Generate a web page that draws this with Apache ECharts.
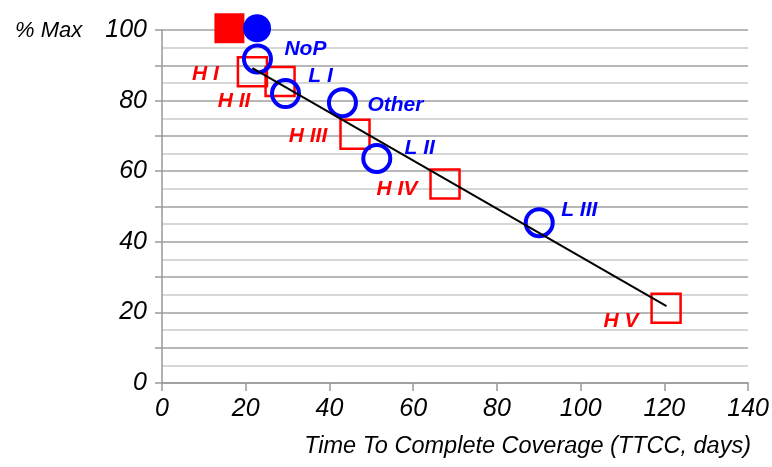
<!DOCTYPE html>
<html>
<head>
<meta charset="utf-8">
<script src="https://cdn.jsdelivr.net/npm/echarts@6/dist/echarts.min.js"></script>
<style>
  html, body { margin: 0; padding: 0; background: #fff; }
  #chart { width: 772px; height: 467px; }
</style>
</head>
<body>
<div id="chart"></div>
<script>
// axis ticks
var xTicks = [0, 20, 40, 60, 80, 100, 120, 140];
var yTicks = [0, 20, 40, 60, 80, 100];

// H group (red hollow squares)
var hNames = ['H I', 'H II', 'H III', 'H IV', 'H V'];
var hX = [21.6, 28.2, 46.1, 67.6, 120.4];
var hY = [88.2, 85.4, 70.5, 56.4, 21.2];

// L group + others (blue hollow circles)
var lNames = ['NoP', 'L I', 'Other', 'L II', 'L III'];
var lX = [22.8, 29.5, 43.1, 51.3, 90.1];
var lY = [91.8, 82.0, 79.4, 63.6, 45.4];

// reference markers at the top (filled)
var refSquare = [16.1, 100.5];
var refCircle = [22.7, 100.5];

// fitted trend line
var trendX = [21.6, 120.5];
var trendY = [89.2, 21.8];

// label placement around each marker (px, from marker centre)
var labelOffset = {
  'H I': [-47, 3], 'H II': [-46, 20], 'H III': [-47, 2], 'H IV': [-48, 5], 'H V': [-45, 13],
  'NoP': [48, -10], 'L I': [35, -17], 'Other': [53, 2], 'L II': [43, -10], 'L III': [40, -13]
};

var RED = '#ff0000';
var BLUE = '#0000ff';
var FONT = 'Liberation Sans';

function pts(xs, ys, names) {
  return xs.map(function (x, i) {
    var item = { value: [x, ys[i]] };
    if (names) {
      item.name = names[i];
      item.label = { offset: labelOffset[names[i]] };
    }
    return item;
  });
}

var chart = echarts.init(document.getElementById('chart'), null, { renderer: 'canvas' });

var option = {
  animation: false,
  backgroundColor: '#fff',
  title: [
    {
      text: '% Max', left: 10, top: 15,
      textStyle: { fontFamily: FONT, fontStyle: 'italic', fontWeight: 'normal', fontSize: 22, color: '#000' }
    },
    {
      text: 'Time To Complete Coverage (TTCC, days)', right: 16, top: 430,
      textStyle: { fontFamily: FONT, fontStyle: 'italic', fontWeight: 'normal', fontSize: 23.5, color: '#000' }
    }
  ],
  grid: { left: 162, right: 18, top: 30, bottom: 84, containLabel: false },
  xAxis: {
    type: 'value', min: 0, max: 140, interval: 20,
    axisLine: { show: true, lineStyle: { color: '#999', width: 1.5 } },
    axisTick: { show: true, length: 8, lineStyle: { color: '#999', width: 1.5 } },
    axisLabel: {
      margin: 14, fontFamily: FONT, fontStyle: 'italic', fontSize: 25, color: '#000',
      formatter: function (v) { return xTicks.indexOf(v) >= 0 ? String(v) : ''; }
    },
    splitLine: { show: false }
  },
  yAxis: {
    type: 'value', min: 0, max: 100, interval: 10,
    axisLine: { show: true, lineStyle: { color: '#999', width: 1.5 } },
    axisTick: { show: true, length: 7, lineStyle: { color: '#999', width: 1.5 } },
    axisLabel: {
      margin: 15, fontFamily: FONT, fontStyle: 'italic', fontSize: 25, color: '#000',
      formatter: function (v) { return yTicks.indexOf(v) >= 0 ? String(v) : ''; }
    },
    splitLine: { show: true, lineStyle: { color: '#a0a0a0', width: 1.5 } },
    minorTick: { show: false, splitNumber: 2 },
    minorSplitLine: { show: true, lineStyle: { color: '#cacaca', width: 1.5 } }
  },
  series: [
    {
      name: 'H', type: 'scatter', symbol: 'rect', symbolSize: 29, z: 3,
      itemStyle: { color: 'rgba(0,0,0,0)', borderColor: RED, borderWidth: 2.5, opacity: 1 },
      label: {
        show: true, position: 'inside', formatter: '{b}',
        fontFamily: FONT, fontStyle: 'italic', fontWeight: 'bold', fontSize: 21, color: RED
      },
      data: pts(hX, hY, hNames)
    },
    {
      name: 'L', type: 'scatter', symbol: 'circle', symbolSize: 27, z: 4,
      itemStyle: { color: 'rgba(0,0,0,0)', borderColor: BLUE, borderWidth: 4, opacity: 1 },
      label: {
        show: true, position: 'inside', formatter: '{b}',
        fontFamily: FONT, fontStyle: 'italic', fontWeight: 'bold', fontSize: 21, color: BLUE
      },
      data: pts(lX, lY, lNames)
    },
    {
      name: 'refSquare', type: 'scatter', symbol: 'rect', symbolSize: 30, z: 3, clip: false,
      itemStyle: { color: RED, opacity: 1 },
      data: [refSquare]
    },
    {
      name: 'refCircle', type: 'scatter', symbol: 'circle', symbolSize: 28, z: 4, clip: false,
      itemStyle: { color: BLUE, opacity: 1 },
      data: [refCircle]
    },
    {
      name: 'trend', type: 'line', showSymbol: false, symbol: 'none', z: 5,
      lineStyle: { color: '#000', width: 2 },
      data: trendX.map(function (x, i) { return [x, trendY[i]]; })
    }
  ]
};

chart.setOption(option);
</script>
</body>
</html>
